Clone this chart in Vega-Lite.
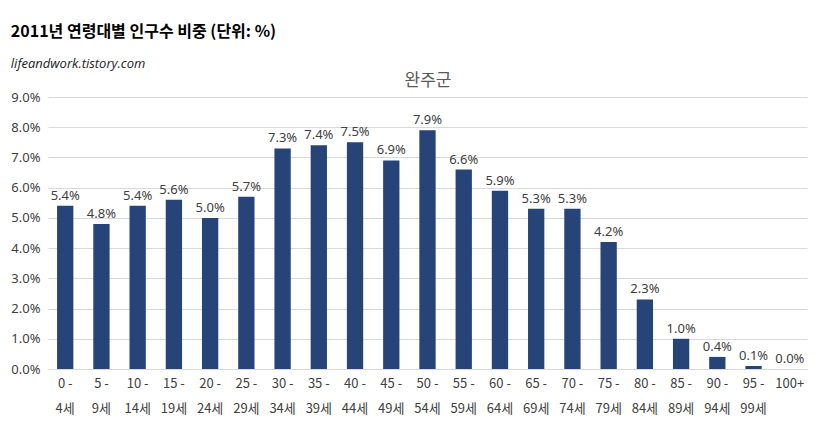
{
  "$schema": "https://vega.github.io/schema/vega-lite/v6.json",
  "width": 819,
  "height": 441,
  "autosize": {"type": "fit", "contains": "padding"},
  "padding": {"left": 10, "right": 12, "top": 24, "bottom": 26},
  "background": "white",
  "config": {"font": "Noto Sans CJK KR", "view": {"stroke": null}},
  "title": {
    "text": "2011년 연령대별 인구수 비중 (단위: %)",
    "subtitle": "lifeandwork.tistory.com",
    "anchor": "start",
    "fontSize": 16,
    "fontWeight": "bold",
    "color": "#000000",
    "subtitleFont": "Open Sans",
    "subtitleFontStyle": "italic",
    "subtitleFontSize": 13,
    "subtitleColor": "#222222",
    "subtitlePadding": 18,
    "offset": 0
  },
  "data": {
    "values": [
      {"age": "0 - 4세", "share": 0.054},
      {"age": "5 - 9세", "share": 0.048},
      {"age": "10 - 14세", "share": 0.054},
      {"age": "15 - 19세", "share": 0.056},
      {"age": "20 - 24세", "share": 0.050},
      {"age": "25 - 29세", "share": 0.057},
      {"age": "30 - 34세", "share": 0.073},
      {"age": "35 - 39세", "share": 0.074},
      {"age": "40 - 44세", "share": 0.075},
      {"age": "45 - 49세", "share": 0.069},
      {"age": "50 - 54세", "share": 0.079},
      {"age": "55 - 59세", "share": 0.066},
      {"age": "60 - 64세", "share": 0.059},
      {"age": "65 - 69세", "share": 0.053},
      {"age": "70 - 74세", "share": 0.053},
      {"age": "75 - 79세", "share": 0.042},
      {"age": "80 - 84세", "share": 0.023},
      {"age": "85 - 89세", "share": 0.010},
      {"age": "90 - 94세", "share": 0.004},
      {"age": "95 - 99세", "share": 0.001},
      {"age": "100+", "share": 0.0}
    ]
  },
  "encoding": {
    "x": {
      "field": "age",
      "type": "ordinal",
      "sort": null,
      "scale": {"paddingInner": 0.55, "paddingOuter": 0.25}
    },
    "y": {
      "field": "share",
      "type": "quantitative",
      "scale": {"domain": [0, 0.09]},
      "axis": {
        "format": ".1%",
        "tickCount": 9,
        "title": null,
        "domain": false,
        "ticks": false,
        "labelFontSize": 13,
        "labelColor": "#404040",
        "labelFont": "Noto Sans",
        "labelPadding": 8,
        "gridColor": "#d9d9d9"
      }
    }
  },
  "layer": [
    {
      "mark": {"type": "bar", "color": "#264478"},
      "encoding": {
        "x": {
          "field": "age",
          "type": "ordinal",
          "sort": null,
          "axis": {
            "title": null,
            "labelAngle": 0,
            "labelExpr": "indexof(datum.label, ' - ') > 0 ? [split(datum.label, ' - ')[0] + ' -', split(datum.label, ' - ')[1]] : datum.label",
            "labelFontSize": 13,
            "labelColor": "#404040",
            "labelLineHeight": 25,
            "labelPadding": 8,
            "ticks": false,
            "domainColor": "#d9d9d9"
          }
        }
      }
    },
    {
      "mark": {"type": "text", "dy": -10, "fontSize": 13, "color": "#404040", "font": "Noto Sans"},
      "encoding": {
        "x": {
          "field": "age",
          "type": "ordinal",
          "sort": null,
          "axis": {
            "orient": "top",
            "title": "완주군",
            "titleFontSize": 17,
            "titleFontWeight": "normal",
            "titleColor": "#595959",
            "titlePadding": 8,
            "labels": false,
            "ticks": false,
            "domain": false
          }
        },
        "text": {"field": "share", "type": "quantitative", "format": ".1%"}
      }
    }
  ],
  "resolve": {"axis": {"x": "independent"}}
}
